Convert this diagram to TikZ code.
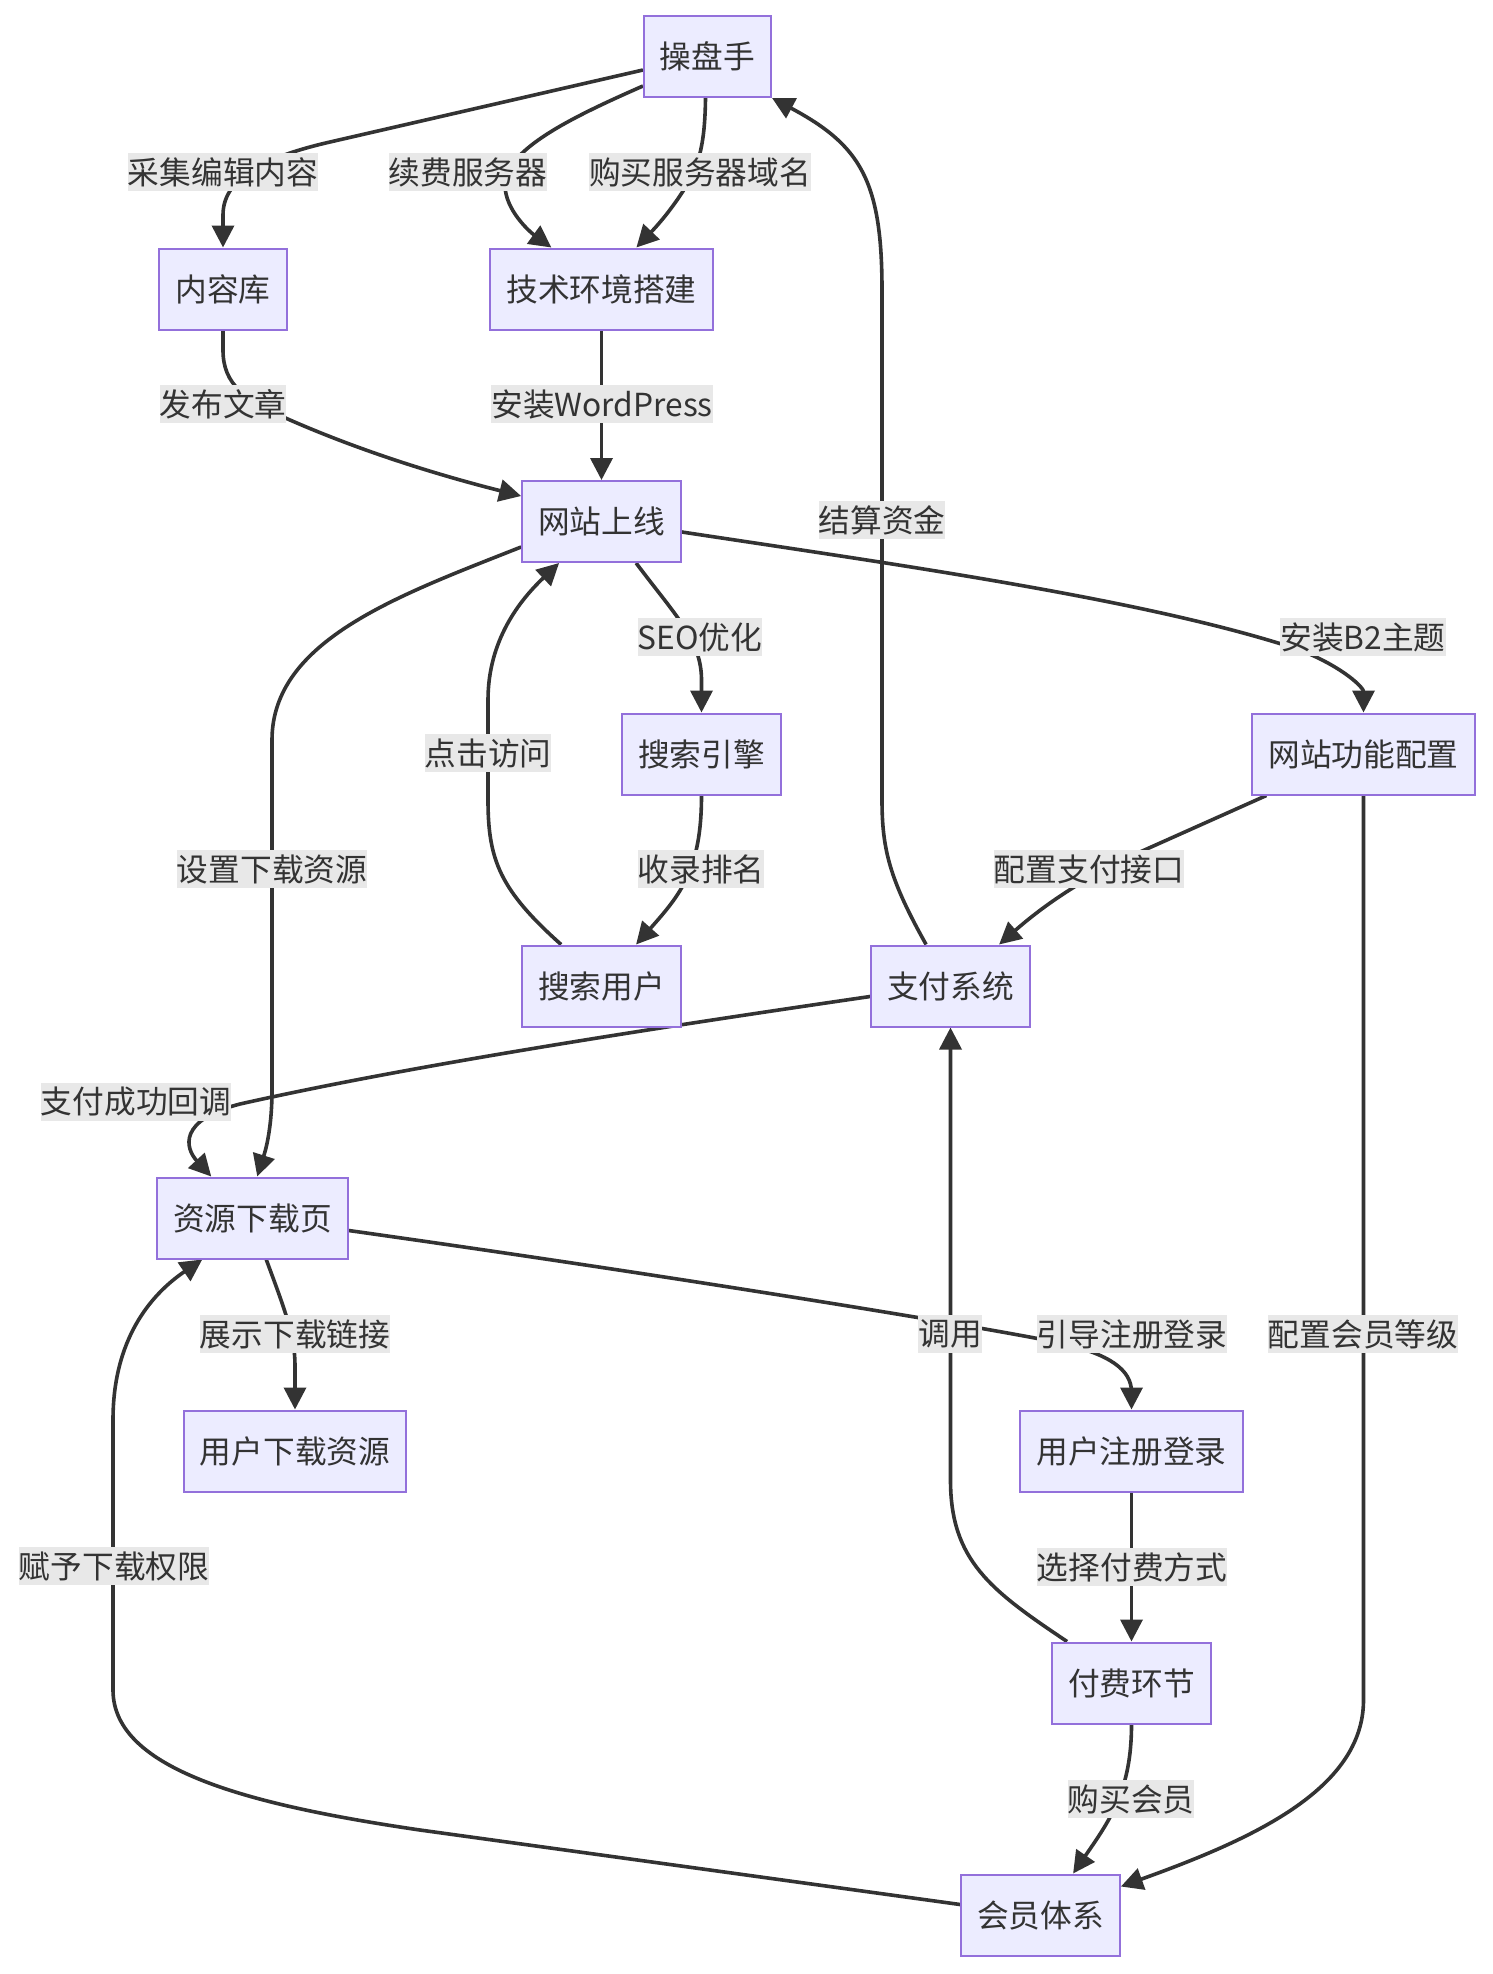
\documentclass[tikz,border=0pt]{standalone}
\usepackage{fontspec}
\setmainfont{Noto Sans CJK SC}
\usetikzlibrary{arrows.meta,calc}
\definecolor{nodefill}{HTML}{ECECFF}
\definecolor{nodeline}{HTML}{9370DB}
\definecolor{edgecol}{HTML}{333333}
\definecolor{lblfill}{HTML}{E8E8E8}
\definecolor{txt}{HTML}{333333}
\pgfdeclarelayer{bg}
\pgfsetlayers{bg,main}
\begin{document}
\begin{tikzpicture}[x=1pt,y=-1pt,
  box/.style={draw=nodeline,line width=2pt,fill=nodefill,text=txt,minimum height=81pt,inner xsep=16pt,inner ysep=0pt,font=\fontsize{31.7pt}{38pt}\selectfont},
  lbl/.style={fill=lblfill,text=txt,inner xsep=0pt,inner ysep=0pt,minimum height=38pt,font=\fontsize{31.7pt}{38pt}\selectfont},
  conn/.style={draw=edgecol,line width=3.6pt,-{Triangle[length=22pt,width=22pt]}}]
\useasboundingbox (0,0) rectangle (1492,1974);
\begin{pgfonlayer}{bg}
\fill[white] (0,0) rectangle (1492,1974);
\end{pgfonlayer}
% nodes
\node[box] (A) at (707.5,56.5) {操盘手};
\node[box] (B) at (223,289) {内容库};
\node[box] (C) at (601.5,289) {技术环境搭建};
\node[box] (D) at (601.5,521.5) {网站上线};
\node[box] (E) at (701.5,754) {搜索引擎};
\node[box] (F) at (1363.5,754) {网站功能配置};
\node[box] (G) at (601.5,986) {搜索用户};
\node[box] (H) at (950.5,986) {支付系统};
\node[box] (I) at (252.5,1218) {资源下载页};
\node[box] (J) at (295,1451) {用户下载资源};
\node[box] (K) at (1131.5,1451) {用户注册登录};
\node[box] (L) at (1131.5,1683) {付费环节};
\node[box] (M) at (1040.5,1915) {会员体系};
% edges
\begin{pgfonlayer}{bg}
\draw[conn] ($(A.north west)+(0,55)$) -- (330,142) .. controls (260,158) and (223,180) .. (223,215) -- (B.north);
\draw[conn] ($(A.north west)+(0,71)$) .. controls (570,118) and (505,150) .. (505,185) .. controls (505,210) and (530,232) .. ($(C.north west)+(62,0)$);
\draw[conn] ($(A.south)+(-2,0)$) .. controls (705,140) and (700,165) .. (685,188) .. controls (670,212) and (655,228) .. ($(C.north west)+(147,0)$);
\draw[conn] (B.south) -- (223,350) .. controls (223,385) and (245,400) .. (290,420) .. controls (370,455) and (450,478) .. ($(D.north west)+(0,16)$);
\draw[conn] (C.south) -- (D.north);
\draw[conn] ($(D.north east)+(0,52)$) .. controls (900,565) and (1150,600) .. (1300,650) .. controls (1345,668) and (1363.5,688) .. (F.north);
\draw[conn] ($(D.south west)+(115,0)$) .. controls (675,615) and (701.5,640) .. (701.5,680) -- (E.north);
\draw[conn] ($(D.north west)+(0,67)$) .. controls (400,595) and (272,640) .. (272,740) -- (272,1090) .. controls (272,1130) and (265,1152) .. ($(I.north west)+(101,0)$);
\draw[conn] (E.south) .. controls (701.5,870) and (680,895) .. ($(G.north west)+(115,0)$);
\draw[conn] ($(G.north west)+(40,0)$) .. controls (500,890) and (488,860) .. (488,800) -- (488,700) .. controls (488,640) and (520,600) .. ($(D.south west)+(38,0)$);
\draw[conn] ($(F.south west)+(15,0)$) -- (1140,852) .. controls (1090,875) and (1050,900) .. ($(H.north west)+(129,0)$);
\draw[conn] (F.south) -- (1363.5,1700) .. controls (1363.5,1790) and (1250,1840) .. ($(M.north east)+(0,13)$);
\draw[conn] ($(H.north west)+(56,0)$) .. controls (890,880) and (882,850) .. (882,800) -- (882,290) .. controls (882,180) and (860,145) .. (A.south east);
\draw[conn] ($(H.north west)+(0,52)$) .. controls (620,1033) and (400,1068) .. (240,1104) .. controls (178,1120) and (185,1148) .. ($(I.north west)+(55,0)$);
\draw[conn] ($(I.south west)+(110,0)$) .. controls (283,1305) and (295,1335) .. (295,1365) -- (J.north);
\draw[conn] ($(I.north east)+(0,54)$) .. controls (700,1280) and (1000,1330) .. (1060,1343) .. controls (1110,1354) and (1131.5,1370) .. (1131.5,1392) -- (K.north);
\draw[conn] (K.south) -- (L.north);
\draw[conn] ($(L.north west)+(16,0)$) .. controls (990,1590) and (950.5,1560) .. (950.5,1480) -- (H.south);
\draw[conn] (L.south) .. controls (1131.5,1790) and (1110,1820) .. ($(M.north west)+(113,0)$);
\draw[conn] ($(M.north west)+(0,31)$) -- (420,1830) .. controls (250,1805) and (113,1770) .. (113,1690) -- (113,1420) .. controls (113,1340) and (150,1295) .. ($(I.south west)+(46,0)$);
\end{pgfonlayer}
% labels
\node[lbl] (l1) at (223,172) {采集编辑内容};
\node[lbl] (l2) at (468,172) {续费服务器};
\node[lbl] (l3) at (700,172) {购买服务器域名};
\node[lbl] (l4) at (223,404) {发布文章};
\node[lbl] (l5) at (602,404) {安装WordPress};
\node[lbl] (l6) at (1363,637) {安装B2主题};
\node[lbl] (l7) at (700,637) {SEO优化};
\node[lbl] (l8) at (272,869) {设置下载资源};
\node[lbl] (l9) at (701,869) {收录排名};
\node[lbl] (l10) at (488,753) {点击访问};
\node[lbl] (l11) at (1089,869) {配置支付接口};
\node[lbl] (l12) at (1363,1334) {配置会员等级};
\node[lbl] (l13) at (882,520) {结算资金};
\node[lbl] (l14) at (136,1102) {支付成功回调};
\node[lbl] (l15) at (295,1334) {展示下载链接};
\node[lbl] (l16) at (1132,1334) {引导注册登录};
\node[lbl] (l17) at (1132,1567) {选择付费方式};
\node[lbl] (l18) at (950,1334) {调用};
\node[lbl] (l19) at (1131,1799) {购买会员};
\node[lbl] (l20) at (114,1566) {赋予下载权限};
\end{tikzpicture}
\end{document}
